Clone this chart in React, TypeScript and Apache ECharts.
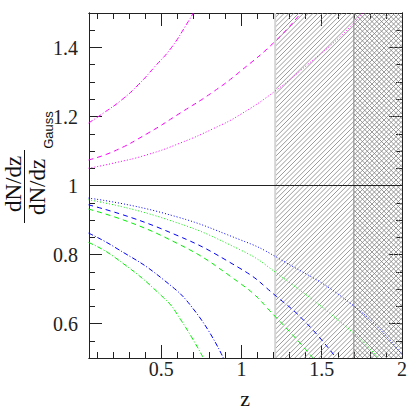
import React, { useEffect, useRef } from 'react';
import * as echarts from 'echarts';

// ---- axis ranges and ticks ----
const xMin = 0.05;
const xMax = 2;
const yMin = 0.5;
const yMax = 1.5;
const xMajorTicks = [0.5, 1, 1.5, 2];
const xMinorTicks = [0.1, 0.2, 0.3, 0.4, 0.5, 0.6, 0.7, 0.8, 0.9, 1.0, 1.1, 1.2, 1.3, 1.4, 1.5, 1.6, 1.7, 1.8, 1.9, 2.0];
const yMajorTicks = [0.6, 0.8, 1, 1.2, 1.4];
const yMinorTicks = [0.55, 0.6, 0.65, 0.7, 0.75, 0.8, 0.85, 0.9, 0.95, 1.0, 1.05, 1.1, 1.15, 1.2, 1.25, 1.3, 1.35, 1.4, 1.45];

// ---- series (z, ratio) ----
const magentaDashDot = [[0.047, 1.181], [0.14, 1.21], [0.253, 1.248], [0.357, 1.292], [0.461, 1.345], [0.564, 1.40], [0.668, 1.475], [0.70, 1.5]];
const magentaDashed = [[0.047, 1.074], [0.204, 1.099], [0.411, 1.15], [0.618, 1.21], [0.825, 1.272], [0.99, 1.33], [1.219, 1.422], [1.37, 1.5]];
const magentaDotted = [[0.047, 1.05], [0.204, 1.065], [0.411, 1.089], [0.618, 1.123], [0.825, 1.165], [0.99, 1.205], [1.219, 1.277], [1.405, 1.348], [1.612, 1.43], [1.757, 1.5]];

const blueDotted = [[0.047, 0.9635], [0.514, 0.92], [0.99, 0.843], [1.219, 0.792], [1.705, 0.649], [2.0, 0.51]];
const greenDotted = [[0.047, 0.9586], [0.514, 0.905], [0.99, 0.814], [1.219, 0.746], [1.705, 0.57], [1.85, 0.5]];
const blueDashed = [[0.047, 0.944], [0.514, 0.872], [0.99, 0.76], [1.219, 0.678], [1.405, 0.601], [1.59, 0.5]];
const greenDashed = [[0.047, 0.9316], [0.514, 0.852], [0.99, 0.717], [1.219, 0.616], [1.446, 0.5]];
const blueDashDot = [[0.047, 0.862], [0.204, 0.823], [0.514, 0.727], [0.72, 0.63], [0.887, 0.5]];
const greenDashDot = [[0.047, 0.835], [0.204, 0.794], [0.514, 0.675], [0.62, 0.612], [0.763, 0.5]];

const unityLevel = 1;
// shaded z ranges: [zStart, zEnd, kind] kind 0 = single hatch, 1 = cross hatch
const hatchRegions = [[1.21, 2.0, 0], [1.7, 2.0, 1]];

const MAGENTA = '#ff00ff';
const BLUE = '#0000ff';
const GREEN = '#00ee00';
const DOT = [1, 2];
const DASH = [5, 4];
const DASHDOT = [5, 2, 1, 2];
const AXIS = '#222';
const SERIF = 'Liberation Serif';

function lineSeries(data: number[][], color: string, dash: number[]) {
  return {
    type: 'line',
    data,
    showSymbol: false,
    smooth: 0.5,
    clip: true,
    silent: true,
    lineStyle: { color, width: 1, type: dash },
    z: 3,
  };
}

function xAxisDef(position: string, ticks: number[], len: number, labels: boolean) {
  return {
    type: 'value',
    min: xMin,
    max: xMax,
    position,
    axisLine: { show: true, onZero: false, lineStyle: { color: AXIS, width: 1 } },
    axisTick: { show: true, inside: true, length: len, customValues: ticks, lineStyle: { color: AXIS, width: 1 } },
    axisLabel: labels
      ? { show: true, customValues: xMajorTicks, fontFamily: SERIF, fontSize: 20, color: AXIS, margin: 1 }
      : { show: false },
    splitLine: { show: false },
  };
}

function yAxisDef(position: string, ticks: number[], len: number, labels: boolean) {
  return {
    type: 'value',
    min: yMin,
    max: yMax,
    position,
    axisLine: { show: true, onZero: false, lineStyle: { color: AXIS, width: 1 } },
    axisTick: { show: true, inside: true, length: len, customValues: ticks, lineStyle: { color: AXIS, width: 1 } },
    axisLabel: labels
      ? { show: true, customValues: yMajorTicks, fontFamily: SERIF, fontSize: 20, color: AXIS, margin: 11 }
      : { show: false },
    splitLine: { show: false },
  };
}

export default function App() {
  const ref = useRef<HTMLDivElement>(null);
  useEffect(() => {
    if (!ref.current) return;
    const chart = echarts.init(ref.current, undefined, { renderer: 'svg' });
    const option: any = {
      animation: false,
      backgroundColor: '#fff',
      grid: { left: 89, right: 13, top: 13, bottom: 57, containLabel: false, outerBoundsMode: 'none' },
      xAxis: [
        xAxisDef('bottom', xMajorTicks, 13, true),
        xAxisDef('bottom', xMinorTicks, 6, false),
        xAxisDef('top', xMajorTicks, 13, false),
        xAxisDef('top', xMinorTicks, 6, false),
      ],
      yAxis: [
        yAxisDef('left', yMajorTicks, 13, true),
        yAxisDef('left', yMinorTicks, 6, false),
        yAxisDef('right', yMajorTicks, 13, false),
        yAxisDef('right', yMinorTicks, 6, false),
      ],
      graphic: [
        { type: 'text', x: 13, y: 184, rotation: Math.PI / 2, style: { text: 'dN/dz', fontFamily: SERIF, fontSize: 23, fill: '#111', align: 'center', verticalAlign: 'middle', textAlign: 'center', textVerticalAlign: 'middle' } },
        { type: 'line', shape: { x1: 24.5, y1: 150, x2: 24.5, y2: 223 }, style: { stroke: '#111', lineWidth: 1 } },
        { type: 'text', x: 37, y: 187, rotation: Math.PI / 2, style: { text: 'dN/dz', fontFamily: SERIF, fontSize: 23, fill: '#111', align: 'center', verticalAlign: 'middle', textAlign: 'center', textVerticalAlign: 'middle' } },
        { type: 'text', x: 48, y: 130, rotation: Math.PI / 2, style: { text: 'Gauss', fontFamily: 'Liberation Sans', fontSize: 13, fill: '#111', align: 'center', verticalAlign: 'middle', textAlign: 'center', textVerticalAlign: 'middle' } },
        { type: 'text', x: 245, y: 398, style: { text: 'z', fontFamily: SERIF, fontSize: 22, fill: '#111', align: 'center', verticalAlign: 'middle', textAlign: 'center', textVerticalAlign: 'middle' } },
      ],
      series: [
        {
          type: 'custom',
          silent: true,
          clip: true,
          z: 1,
          data: hatchRegions,
          encode: { x: [0, 1] },
          renderItem: (params: any, api: any) => {
            const z0 = api.value(0);
            const z1 = api.value(1);
            const kind = api.value(2);
            const tl = api.coord([z0, yMax]);
            const br = api.coord([z1, yMin]);
            const L = tl[0], T = tl[1], R = br[0], B = br[1];
            const s = 4.8;
            const children: any[] = [];
            const st = { stroke: '#808080', lineWidth: 0.8 };
            if (kind === 0) {
              const start = Math.ceil((L + T) / s) * s;
              for (let c = start; c <= R + B; c += s) {
                const xa = Math.max(L, c - B);
                const xb = Math.min(R, c - T);
                if (xb > xa) children.push({ type: 'line', shape: { x1: xa, y1: c - xa, x2: xb, y2: c - xb }, style: st });
              }
              children.push({ type: 'line', shape: { x1: L, y1: T, x2: L, y2: B }, style: { stroke: '#d4d4d4', lineWidth: 2 } });
            } else {
              const start = Math.ceil((T - R) / s) * s;
              for (let c = start; c <= B - L; c += s) {
                const xa = Math.max(L, T - c);
                const xb = Math.min(R, B - c);
                if (xb > xa) children.push({ type: 'line', shape: { x1: xa, y1: xa + c, x2: xb, y2: xb + c }, style: st });
              }
              children.push({ type: 'line', shape: { x1: L, y1: T, x2: L, y2: B }, style: { stroke: '#888', lineWidth: 1 } });
            }
            return { type: 'group', children };
          },
        },
        {
          type: 'line',
          data: [[xMin, unityLevel], [xMax, unityLevel]],
          showSymbol: false,
          silent: true,
          lineStyle: { color: '#222', width: 1, type: 'solid' },
          z: 2,
        },
        lineSeries(magentaDashDot, MAGENTA, DASHDOT),
        lineSeries(magentaDashed, MAGENTA, DASH),
        lineSeries(magentaDotted, MAGENTA, DOT),
        lineSeries(blueDotted, BLUE, DOT),
        lineSeries(greenDotted, GREEN, DOT),
        lineSeries(blueDashed, BLUE, DASH),
        lineSeries(greenDashed, GREEN, DASH),
        lineSeries(blueDashDot, BLUE, DASHDOT),
        lineSeries(greenDashDot, GREEN, DASHDOT),
      ],
    };
    chart.setOption(option);
    return () => chart.dispose();
  }, []);
  return <div ref={ref} style={{ position: 'fixed', left: 0, top: 0, width: 415, height: 415, background: '#fff' }} />;
}
